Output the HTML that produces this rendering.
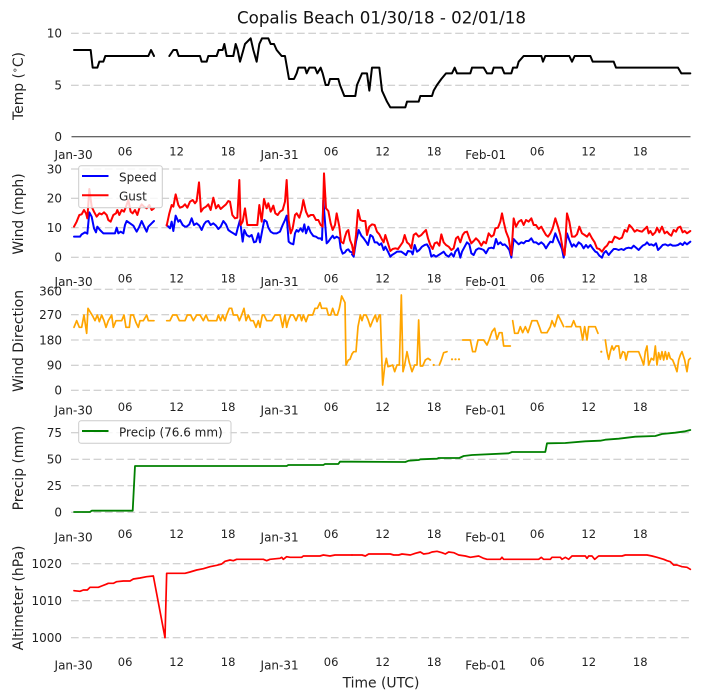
<!DOCTYPE html>
<html><head><meta charset="utf-8"><style>
html,body{margin:0;padding:0;background:#fff;}
svg{display:block;font-family:"DejaVu Sans","Liberation Sans",sans-serif;}
.g{stroke:#c4c4c4;stroke-width:1;stroke-dasharray:7.7,3.6;fill:none;}
.yt{font-size:12px;text-anchor:end;fill:#222;}
.mn{font-size:11.5px;text-anchor:middle;fill:#222;}
.mj{font-size:12px;text-anchor:middle;fill:#222;}
.yl{font-size:13.9px;text-anchor:middle;fill:#222;}
polyline{fill:none;stroke-linejoin:round;stroke-linecap:round;}
.z polyline{vector-effect:non-scaling-stroke;}
</style></head><body>
<svg width="704" height="700" viewBox="0 0 704 700" xmlns="http://www.w3.org/2000/svg">
<rect width="704" height="700" fill="#fff"/>
<!-- Title -->
<text x="381.5" y="23.5" font-size="16.67" text-anchor="middle" fill="#111">Copalis Beach 01/30/18 - 02/01/18</text>

<!-- ===== Panel 1: Temp ===== -->
<line class="g" x1="71" x2="690.5" y1="33.3" y2="33.3"/>
<line class="g" x1="71" x2="690.5" y1="85.3" y2="85.3"/>
<line x1="71.5" x2="690.5" y1="136.7" y2="136.7" stroke="#333" stroke-width="1"/>
<text class="yt" x="62" y="37.7">10</text>
<text class="yt" x="62" y="89.7">5</text>
<text class="yt" x="62" y="141.1">0</text>
<text class="yl" transform="translate(23,86) rotate(-90)">Temp (<tspan font-size="9.5" dy="-5">∘</tspan><tspan dy="5">C)</tspan></text>
<g class="z" transform="translate(0,0) scale(0.33333)">
<polyline stroke="#000" stroke-width="2" points="222,150 272,150 278,203 292,203 298,185 310,185 316,168 445,168 453,150 462,168"/>
<polyline stroke="#000" stroke-width="2" points="508,168 520,150 530,150 536,168 600,168 605,185 620,185 625,168 650,168 656,150 668,150 673,132 680,168 700,168 707,132 713,150 720,185 725,168 735,132 752,115 760,150 770,185 778,132 786,115 805,115 812,132 822,132 830,150 845,168 855,168 867,237 882,237 890,220 895,203 915,203 920,220 928,203 945,203 952,220 962,203 968,220 977,255 985,255 990,237 1015,237 1020,255 1033,288 1056,288"/>
</g>
<g class="z" transform="translate(352,0) scale(0.33333)">
<polyline stroke="#000" stroke-width="2" points="0,288 10,288 15,255 30,220 45,220 52,272 60,203 82,203 90,272 105,305 115,322 160,322 165,305 200,305 205,288 240,288 245,272 255,255 268,237 282,220 300,220 308,203 315,220 355,220 360,203 395,203 405,220 420,220 425,203 450,203 457,220 478,220 483,203 495,203 500,185 515,168 568,168 573,185 580,168 652,168 660,185 668,168 715,168 722,185 785,185 792,203 978,203 988,220 1015,220"/>
</g>
<g>
<text class="mj" x="73.6" y="159.2">Jan-30</text><text class="mn" x="125.1" y="155.6">06</text><text class="mn" x="176.6" y="155.6">12</text><text class="mn" x="228.1" y="155.6">18</text>
<text class="mj" x="279.6" y="159.2">Jan-31</text><text class="mn" x="331.1" y="155.6">06</text><text class="mn" x="382.6" y="155.6">12</text><text class="mn" x="434.1" y="155.6">18</text>
<text class="mj" x="485.7" y="159.2">Feb-01</text><text class="mn" x="537.2" y="155.6">06</text><text class="mn" x="588.7" y="155.6">12</text><text class="mn" x="640.2" y="155.6">18</text>
</g>

<!-- ===== Panel 2: Wind ===== -->
<line class="g" x1="71" x2="690.5" y1="169" y2="169"/>
<line class="g" x1="71" x2="690.5" y1="198.3" y2="198.3"/>
<line class="g" x1="71" x2="690.5" y1="227.7" y2="227.7"/>
<line class="g" x1="71" x2="690.5" y1="257.3" y2="257.3"/>
<text class="yt" x="62" y="173.4">30</text>
<text class="yt" x="62" y="202.7">20</text>
<text class="yt" x="62" y="232.1">10</text>
<text class="yt" x="62" y="261.7">0</text>
<text class="yl" transform="translate(23,214) rotate(-90)">Wind (mph)</text>
<g class="z" transform="translate(0,155) scale(0.33333)">
<polyline stroke="#0000ff" stroke-width="2" points="222,245 240,245 245,238 255,232 262,236 268,172 275,185 282,220 288,232 292,215 300,225 305,230 310,235 320,235 345,235 350,218 355,235 362,230 370,235 375,210 380,198 390,205 400,212 410,230 418,215 425,198 435,220 440,230 445,215 455,205 462,198"/>
<polyline stroke="#0000ff" stroke-width="2" points="500,210 510,220 515,200 520,228 527,182 535,200 540,195 548,210 555,215 560,215 568,208 575,190 582,210 590,205 598,212 605,225 612,208 618,200 625,198 632,210 640,205 648,212 655,222 662,215 670,198 678,208 685,225 692,230 700,235 708,240 713,220 720,195 728,260 733,225 740,240 748,245 755,240 762,262 768,260 775,235 780,262 787,225 793,195 800,200 805,218 812,230 820,235 830,235 840,230 848,210 855,195 860,182 866,260 872,265 880,268 885,235 890,225 895,230 902,220 908,230 913,208 918,235 925,215 932,232 940,243 948,245 955,250 962,250 966,255 970,135 975,200 980,265 985,260 992,250 998,242 1003,250 1010,245 1018,250 1022,280 1028,296 1035,292 1040,285 1045,283 1050,290 1056,292"/>
<polyline stroke="#ff0000" stroke-width="2" points="222,215 230,200 238,180 245,178 252,165 258,175 262,190 268,102 275,155 282,170 290,185 298,175 305,178 312,172 320,180 325,195 332,200 340,180 348,175 352,165 358,180 365,165 372,170 378,155 385,135 392,170 398,175 405,165 412,180 418,160 425,148 432,155 440,160 448,150 455,165 462,160"/>
<polyline stroke="#ff0000" stroke-width="2" points="500,212 508,175 515,150 520,155 527,118 535,150 540,158 548,155 555,148 562,158 570,140 578,135 585,145 590,138 597,82 603,170 610,160 618,155 625,148 632,165 640,128 648,160 655,150 662,162 670,155 678,148 685,138 690,140 697,180 705,190 712,188 718,75 722,210 728,200 735,160 742,210 750,210 758,210 765,210 772,210 778,150 785,200 792,132 800,160 805,145 812,170 820,152 826,175 833,180 840,170 848,165 855,140 860,75 866,195 872,235 878,220 885,180 890,175 898,188 905,165 910,135 918,170 925,185 932,180 940,180 948,195 955,195 962,210 968,215 972,55 978,160 985,168 992,205 998,225 1005,210 1010,175 1018,215 1023,260 1030,265 1035,245 1040,230 1045,225 1050,255 1056,270"/>
</g>
<g class="z" transform="translate(352,155) scale(0.33333)">
<polyline stroke="#0000ff" stroke-width="2" points="0,298 5,305 12,260 20,225 28,242 35,250 42,260 48,270 55,240 62,245 68,262 75,262 82,270 88,265 95,285 100,275 108,290 115,305 120,300 128,295 135,290 148,290 155,295 162,300 168,288 178,290 182,298 188,270 195,290 202,285 210,275 218,270 225,268 232,280 238,305 245,300 252,305 260,300 268,295 275,290 282,300 290,305 298,295 305,305 310,290 318,280 325,308 330,290 338,275 345,262 352,268 358,295 365,300 372,285 380,280 388,282 395,285 402,295 410,280 418,278 425,280 432,252 438,268 445,262 452,270 458,268 465,275 472,285 478,308 485,252 492,260 500,268 508,262 515,265 522,258 530,258 538,250 545,262 552,262 560,268 568,262 575,268 582,280 588,270 595,260 602,262 610,235 618,255 625,270 630,282 635,308 640,275 645,235 652,255 660,275 665,268 672,275 680,262 688,268 695,280 702,270 708,278 715,270 722,280 730,290 735,292 742,302 750,308 755,295 762,288 770,300 778,290 785,282 792,282 800,285 808,282 815,285 822,280 830,278 838,280 845,272 852,278 860,285 866,278 872,272 880,268 885,262 892,270 898,268 905,272 912,265 918,285 925,278 932,270 940,268 948,272 955,268 962,272 970,272 978,270 985,265 992,270 998,262 1005,268 1015,260"/>
<polyline stroke="#ff0000" stroke-width="2" points="0,270 5,298 12,240 18,165 25,195 32,198 40,198 45,240 52,215 60,208 68,210 75,230 82,238 88,250 95,262 100,240 108,265 115,288 122,282 130,280 138,282 145,272 152,262 158,240 165,262 172,268 178,280 185,240 192,235 200,245 208,240 215,232 222,225 228,250 235,270 242,282 248,265 255,262 262,272 268,238 275,262 282,270 290,275 298,285 305,280 312,250 318,245 325,262 332,240 338,232 345,230 352,250 358,265 365,258 372,250 380,258 388,272 395,260 402,265 410,235 418,245 425,240 430,220 438,218 445,200 450,175 455,200 462,230 470,250 478,300 485,190 492,215 500,200 508,195 515,210 522,195 530,200 538,190 545,210 552,210 560,222 568,215 575,228 582,240 588,245 595,235 602,220 610,190 618,215 625,240 632,280 638,300 645,175 652,200 660,245 668,245 675,238 682,215 690,235 698,240 705,245 712,235 720,250 728,262 735,280 742,282 750,290 758,278 765,272 772,260 780,262 788,245 795,248 802,252 810,248 818,225 825,230 832,210 840,218 848,230 855,225 862,228 870,230 878,222 885,215 890,235 895,228 902,240 910,232 915,218 922,232 930,215 938,235 945,230 952,238 958,242 965,225 972,230 978,218 985,215 992,232 998,228 1005,235 1015,228"/>
</g>
<!-- legend wind -->
<rect x="78.7" y="165.7" width="83.6" height="42" rx="2.5" fill="#fff" fill-opacity="0.8" stroke="#cccccc" stroke-width="1"/>
<line x1="82" x2="108.5" y1="176" y2="176" stroke="#0000ff" stroke-width="2"/>
<text x="119" y="181.5" font-size="12" fill="#222">Speed</text>
<line x1="82" x2="108.5" y1="195.3" y2="195.3" stroke="#ff0000" stroke-width="2"/>
<text x="119" y="200.3" font-size="12" fill="#222">Gust</text>
<g>
<text class="mj" x="73.6" y="286.2">Jan-30</text><text class="mn" x="125.1" y="282.6">06</text><text class="mn" x="176.6" y="282.6">12</text><text class="mn" x="228.1" y="282.6">18</text>
<text class="mj" x="279.6" y="286.2">Jan-31</text><text class="mn" x="331.1" y="282.6">06</text><text class="mn" x="382.6" y="282.6">12</text><text class="mn" x="434.1" y="282.6">18</text>
<text class="mj" x="485.7" y="286.2">Feb-01</text><text class="mn" x="537.2" y="282.6">06</text><text class="mn" x="588.7" y="282.6">12</text><text class="mn" x="640.2" y="282.6">18</text>
</g>

<!-- ===== Panel 3: Wind Direction ===== -->
<line class="g" x1="71" x2="690.5" y1="289.3" y2="289.3"/>
<line class="g" x1="71" x2="690.5" y1="314.7" y2="314.7"/>
<line class="g" x1="71" x2="690.5" y1="340" y2="340"/>
<line class="g" x1="71" x2="690.5" y1="365.3" y2="365.3"/>
<line class="g" x1="71" x2="690.5" y1="390.3" y2="390.3"/>
<text class="yt" x="62" y="295.5">360</text>
<text class="yt" x="62" y="319.1">270</text>
<text class="yt" x="62" y="344.4">180</text>
<text class="yt" x="62" y="369.7">90</text>
<text class="yt" x="62" y="394.7">0</text>
<text class="yl" transform="translate(23,341) rotate(-90)">Wind Direction</text>
<g class="z" transform="translate(0,280) scale(0.33333)">
<polyline stroke="#ffa500" stroke-width="1.7" points="222,142 230,122 238,142 245,142 252,105 260,160 264,85 270,95 278,108 285,122 292,105 298,125 305,105 312,122 318,142 325,122 335,105 340,142 348,122 355,122 365,122 372,105 378,142 388,142 392,105 400,105 408,128 415,142 420,122 430,122 440,105 445,122 462,122"/>
<polyline stroke="#ffa500" stroke-width="1.7" points="500,122 510,122 518,105 530,105 538,122 555,122 562,105 572,105 580,122 590,105 600,105 610,122 618,105 625,122 640,122 650,122 655,105 662,122 668,105 675,122 680,105 688,85 695,85 700,105 712,105 718,122 725,105 732,85 738,122 745,105 752,122 760,122 768,142 775,122 780,142 787,105 792,105 800,122 815,122 825,105 840,105 848,142 855,105 860,142 865,122 872,105 880,105 888,122 895,105 900,105 905,122 910,105 918,125 925,105 938,105 945,85 952,85 960,68 965,85 972,85 980,85 985,105 992,105 998,85 1005,105 1012,105 1018,85 1022,65 1025,48 1030,58 1035,68 1038,255 1045,240 1050,238 1056,222"/>
</g>
<g class="z" transform="translate(352,280) scale(0.33333)">
<polyline stroke="#ffa500" stroke-width="1.7" points="0,222 5,215 12,215 18,140 25,105 30,122 35,105 42,105 48,118 55,140 62,122 70,105 75,125 82,105 85,105 92,315 98,260 103,235 108,260 115,258 122,255 128,275 135,255 142,255 148,45 153,275 158,255 165,215 172,248 180,275 188,255 195,255 200,120 205,258 212,258 220,240 228,235 235,240"/>
<polyline stroke="#ffa500" stroke-width="1.7" points="262,255 268,240 275,218 285,215"/>
<polyline stroke="#ffa500" stroke-width="1.7" points="332,180 355,180 362,215 370,215 378,180 395,180 405,195 412,178 420,155 428,145 435,178 442,158 450,158 455,198 475,198"/>
<polyline stroke="#ffa500" stroke-width="1.7" points="482,122 488,160 498,160 505,140 512,158 520,140 528,158 540,122 555,122 562,140 568,158 585,158 595,140 600,122 608,140 618,105 628,125 635,140"/>
<polyline stroke="#ffa500" stroke-width="1.7" points="642,140 658,140 665,122 672,140 685,140 692,180 698,140 705,180 710,140 720,140 730,140 738,160"/>
<polyline stroke="#ffa500" stroke-width="1.7" points="760,180 765,215 770,238 775,215 780,198 785,210 792,198 800,198 805,235 812,215 818,218 822,240 828,215 835,215 860,215 868,235 875,255 880,215 885,198 890,255 898,235 905,240 910,198 915,255 920,218 925,238 930,215 935,240 940,215 945,238 950,218 955,235 962,240 968,255 975,275 980,240 985,225 990,215 998,240 1005,275 1010,240 1015,235"/>
</g>
<g fill="#ffa500">
<circle cx="433.7" cy="365" r="1.1"/>
<circle cx="452" cy="359.3" r="1.1"/><circle cx="455.5" cy="359.3" r="1.1"/><circle cx="459" cy="359.3" r="1.1"/>
<circle cx="601.3" cy="351.7" r="1.1"/>
</g>
<g>
<text class="mj" x="73.6" y="414.6">Jan-30</text><text class="mn" x="125.1" y="411">06</text><text class="mn" x="176.6" y="411">12</text><text class="mn" x="228.1" y="411">18</text>
<text class="mj" x="279.6" y="414.6">Jan-31</text><text class="mn" x="331.1" y="411">06</text><text class="mn" x="382.6" y="411">12</text><text class="mn" x="434.1" y="411">18</text>
<text class="mj" x="485.7" y="414.6">Feb-01</text><text class="mn" x="537.2" y="411">06</text><text class="mn" x="588.7" y="411">12</text><text class="mn" x="640.2" y="411">18</text>
</g>

<!-- ===== Panel 4: Precip ===== -->
<line class="g" x1="71" x2="690.5" y1="432.7" y2="432.7"/>
<line class="g" x1="71" x2="690.5" y1="459.3" y2="459.3"/>
<line class="g" x1="71" x2="690.5" y1="485.7" y2="485.7"/>
<line class="g" x1="71" x2="690.5" y1="512.3" y2="512.3"/>
<text class="yt" x="62" y="437.1">75</text>
<text class="yt" x="62" y="463.7">50</text>
<text class="yt" x="62" y="490.1">25</text>
<text class="yt" x="62" y="516.7">0</text>
<text class="yl" transform="translate(23,468) rotate(-90)">Precip (mm)</text>
<polyline stroke="#008000" stroke-width="1.8" points="74,512 90,512 91.7,510.7 132.7,510.7 135,466 286.7,466 288.3,465 323.3,465 325,464 338.3,464 340,461.7 352,461.7 405.3,462 408.7,460.7 418.7,460 420.3,459.3 437,458.7 438.7,458 459.3,458 463.7,456 472,455 508.7,453.3 512,452 545.3,452 547,443.3 565.3,443 585.3,441.3 600.3,440.7 605.3,439.7 618.7,438.7 635.3,436.7 655.3,436 662,434 675.3,432.7 685.3,431.3 690.3,430"/>
<rect x="78.7" y="420.7" width="152.3" height="22.6" rx="2.5" fill="#fff" fill-opacity="0.8" stroke="#cccccc" stroke-width="1"/>
<line x1="82" x2="108.5" y1="431" y2="431" stroke="#008000" stroke-width="2"/>
<text x="119" y="436.5" font-size="12" fill="#222">Precip (76.6 mm)</text>
<g>
<text class="mj" x="73.6" y="541.4">Jan-30</text><text class="mn" x="125.1" y="537.8">06</text><text class="mn" x="176.6" y="537.8">12</text><text class="mn" x="228.1" y="537.8">18</text>
<text class="mj" x="279.6" y="541.4">Jan-31</text><text class="mn" x="331.1" y="537.8">06</text><text class="mn" x="382.6" y="537.8">12</text><text class="mn" x="434.1" y="537.8">18</text>
<text class="mj" x="485.7" y="541.4">Feb-01</text><text class="mn" x="537.2" y="537.8">06</text><text class="mn" x="588.7" y="537.8">12</text><text class="mn" x="640.2" y="537.8">18</text>
</g>

<!-- ===== Panel 5: Altimeter ===== -->
<line class="g" x1="71" x2="690.5" y1="563.7" y2="563.7"/>
<line class="g" x1="71" x2="690.5" y1="600.7" y2="600.7"/>
<line class="g" x1="71" x2="690.5" y1="637.7" y2="637.7"/>
<text class="yt" x="62" y="568.1">1020</text>
<text class="yt" x="62" y="605.1">1010</text>
<text class="yt" x="62" y="642.1">1000</text>
<text class="yl" transform="translate(23,598) rotate(-90)">Altimeter (hPa)</text>
<g class="z" transform="translate(0,540) scale(0.33333)">
<polyline stroke="#ff0000" stroke-width="1.7" points="222,152 240,154 250,150 262,150 270,142 295,142 305,138 318,133 325,130 340,130 350,125 370,123 390,123 400,117 420,114 440,110 460,108 495,293 500,100 555,100 570,96 590,90 610,86 630,80 650,76 665,72 675,64 690,60 700,62 710,58 790,58 800,62 810,58 840,55 845,52 850,58 860,50 870,52 905,52 910,48 940,48 960,48 970,45 990,48 1005,45 1056,45"/>
</g>
<g class="z" transform="translate(352,540) scale(0.33333)">
<polyline stroke="#ff0000" stroke-width="1.7" points="0,45 30,45 40,48 50,42 115,42 125,45 140,45 150,42 175,45 190,40 205,36 215,42 230,40 240,36 255,34 270,38 280,42 290,36 305,38 320,45 340,48 355,52 380,48 395,55 405,58 445,58 450,52 455,58 560,58 568,52 575,58 595,58 600,52 625,52 630,58 640,52 650,58 660,48 700,48 705,55 710,48 720,48 728,58 735,52 740,48 810,48 820,45 885,45 900,48 915,52 925,55 935,58 945,62 955,65 965,75 975,75 990,80 1005,82 1015,88"/>
</g>
<g>
<text class="mj" x="73.6" y="669.4">Jan-30</text><text class="mn" x="125.1" y="665.8">06</text><text class="mn" x="176.6" y="665.8">12</text><text class="mn" x="228.1" y="665.8">18</text>
<text class="mj" x="279.6" y="669.4">Jan-31</text><text class="mn" x="331.1" y="665.8">06</text><text class="mn" x="382.6" y="665.8">12</text><text class="mn" x="434.1" y="665.8">18</text>
<text class="mj" x="485.7" y="669.4">Feb-01</text><text class="mn" x="537.2" y="665.8">06</text><text class="mn" x="588.7" y="665.8">12</text><text class="mn" x="640.2" y="665.8">18</text>
</g>
<text x="381" y="687.5" font-size="13.9" text-anchor="middle" fill="#222">Time (UTC)</text>
</svg>
</body></html>
